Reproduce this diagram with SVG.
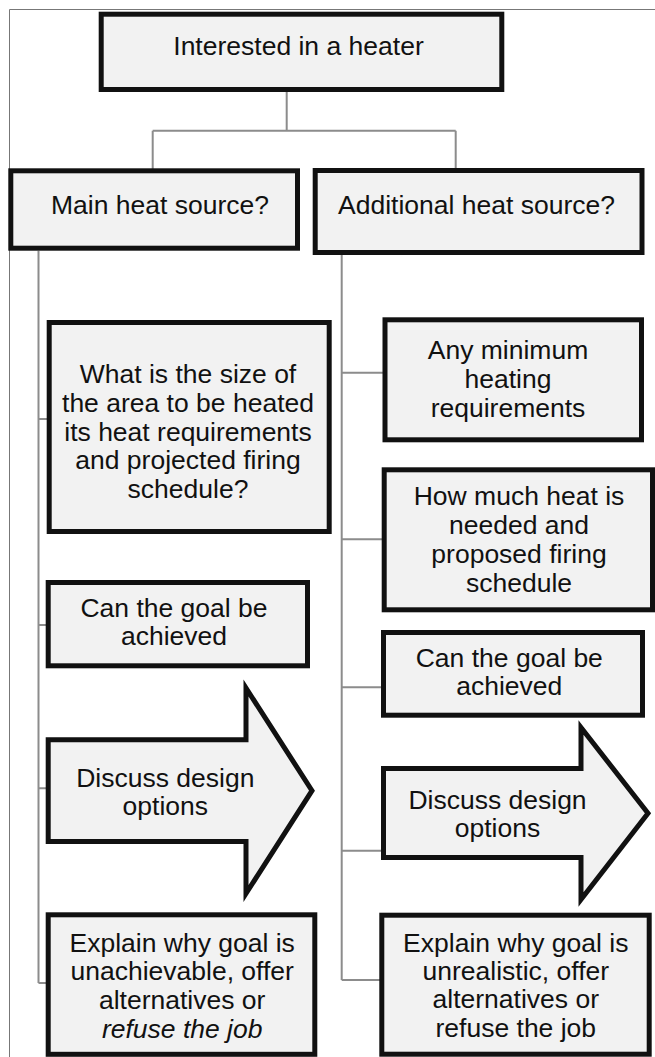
<svg xmlns="http://www.w3.org/2000/svg" width="655" height="1057" viewBox="0 0 655 1057">
<style>
.box{fill:#f2f2f2;stroke:#111;stroke-width:5;stroke-linejoin:miter}
.t{font-family:"Liberation Sans",Arial,sans-serif;font-size:26.5px;fill:#111;text-anchor:middle}
.c{fill:none;stroke:#8c8c8c;stroke-width:2}
.frame{fill:none;stroke:#777;stroke-width:1}
</style>
<rect width="655" height="1057" fill="#fff"/>
<path class="frame" d="M9.5 1057 V9.5 H655"/>
<g id="connectors">
<path class="c" d="M286.7 92 V130.7 M152.7 130.7 H455.7 M152.7 130.7 V169 M455.7 130.7 V169"/>
<path class="c" d="M38.5 250.7 V983 M38.5 419 H47 M38.5 625 H47 M38.5 788.3 H47 M38.5 983 H47"/>
<path class="c" d="M341.7 255 V980 M341.7 372.7 H383 M341.7 539.3 H383 M341.7 687.3 H383 M341.7 850.7 H383 M341.7 980 H381"/>
</g>
<g id="n-top">
<rect class="box" x="101.2" y="14.2" width="400.6" height="75.3"/>
<text class="t" x="298.5" y="55">Interested in a heater</text>
</g>
<g id="n-main">
<rect class="box" x="10.8" y="170.8" width="286.7" height="77.4"/>
<text class="t" x="160" y="213.5">Main heat source?</text>
</g>
<g id="n-additional">
<rect class="box" x="315.2" y="170.5" width="326.8" height="82"/>
<text class="t" x="476.5" y="214">Additional heat source?</text>
</g>
<g id="n-what">
<rect class="box" x="49.2" y="322.5" width="280" height="209"/>
<text class="t" x="188" y="383.3">What is the size of</text>
<text class="t" x="188" y="411.7">the area to be heated</text>
<text class="t" x="188" y="440.7">its heat requirements</text>
<text class="t" x="188" y="469.3">and projected firing</text>
<text class="t" x="188" y="498.3">schedule?</text>
</g>
<g id="n-any">
<rect class="box" x="385" y="319.8" width="256.5" height="120"/>
<text class="t" x="508" y="359.3">Any minimum</text>
<text class="t" x="508" y="388.3">heating</text>
<text class="t" x="508" y="416.7">requirements</text>
</g>
<g id="n-how">
<rect class="box" x="384.2" y="469.8" width="268.3" height="140"/>
<text class="t" x="519" y="505.3">How much heat is</text>
<text class="t" x="519" y="534.3">needed and</text>
<text class="t" x="519" y="563.3">proposed firing</text>
<text class="t" x="519" y="591.7">schedule</text>
</g>
<g id="n-can-left">
<rect class="box" x="48.2" y="582.5" width="259.3" height="83.3"/>
<text class="t" x="174" y="616.7">Can the goal be</text>
<text class="t" x="174" y="645">achieved</text>
</g>
<g id="n-can-right">
<rect class="box" x="383.5" y="632.5" width="259" height="82.7"/>
<text class="t" x="509.3" y="666.7">Can the goal be</text>
<text class="t" x="509.3" y="695">achieved</text>
</g>
<g id="n-discuss-left">
<polygon class="box" points="48.2,739.8 246,739.8 246,688 312,790.7 246,893.5 246,841.5 48.2,841.5"/>
<text class="t" x="165.3" y="786.7">Discuss design</text>
<text class="t" x="165.3" y="815">options</text>
</g>
<g id="n-discuss-right">
<polygon class="box" points="383.5,768.5 581,768.5 581,727.5 648,813.3 581,899.5 581,857.5 383.5,857.5"/>
<text class="t" x="497.5" y="809.3">Discuss design</text>
<text class="t" x="497.5" y="836.7">options</text>
</g>
<g id="n-explain-left">
<rect class="box" x="48.2" y="914.8" width="266.6" height="139.5"/>
<text class="t" x="182.2" y="951.7">Explain why goal is</text>
<text class="t" x="182.2" y="980">unachievable, offer</text>
<text class="t" x="182.2" y="1009.3">alternatives or</text>
<text class="t" x="182.2" y="1038.3" font-style="italic">refuse the job</text>
</g>
<g id="n-explain-right">
<rect class="box" x="381.8" y="915.2" width="267.4" height="139"/>
<text class="t" x="515.8" y="951.7">Explain why goal is</text>
<text class="t" x="515.8" y="980">unrealistic, offer</text>
<text class="t" x="515.8" y="1008.3">alternatives or</text>
<text class="t" x="515.8" y="1037.3">refuse the job</text>
</g>
</svg>
